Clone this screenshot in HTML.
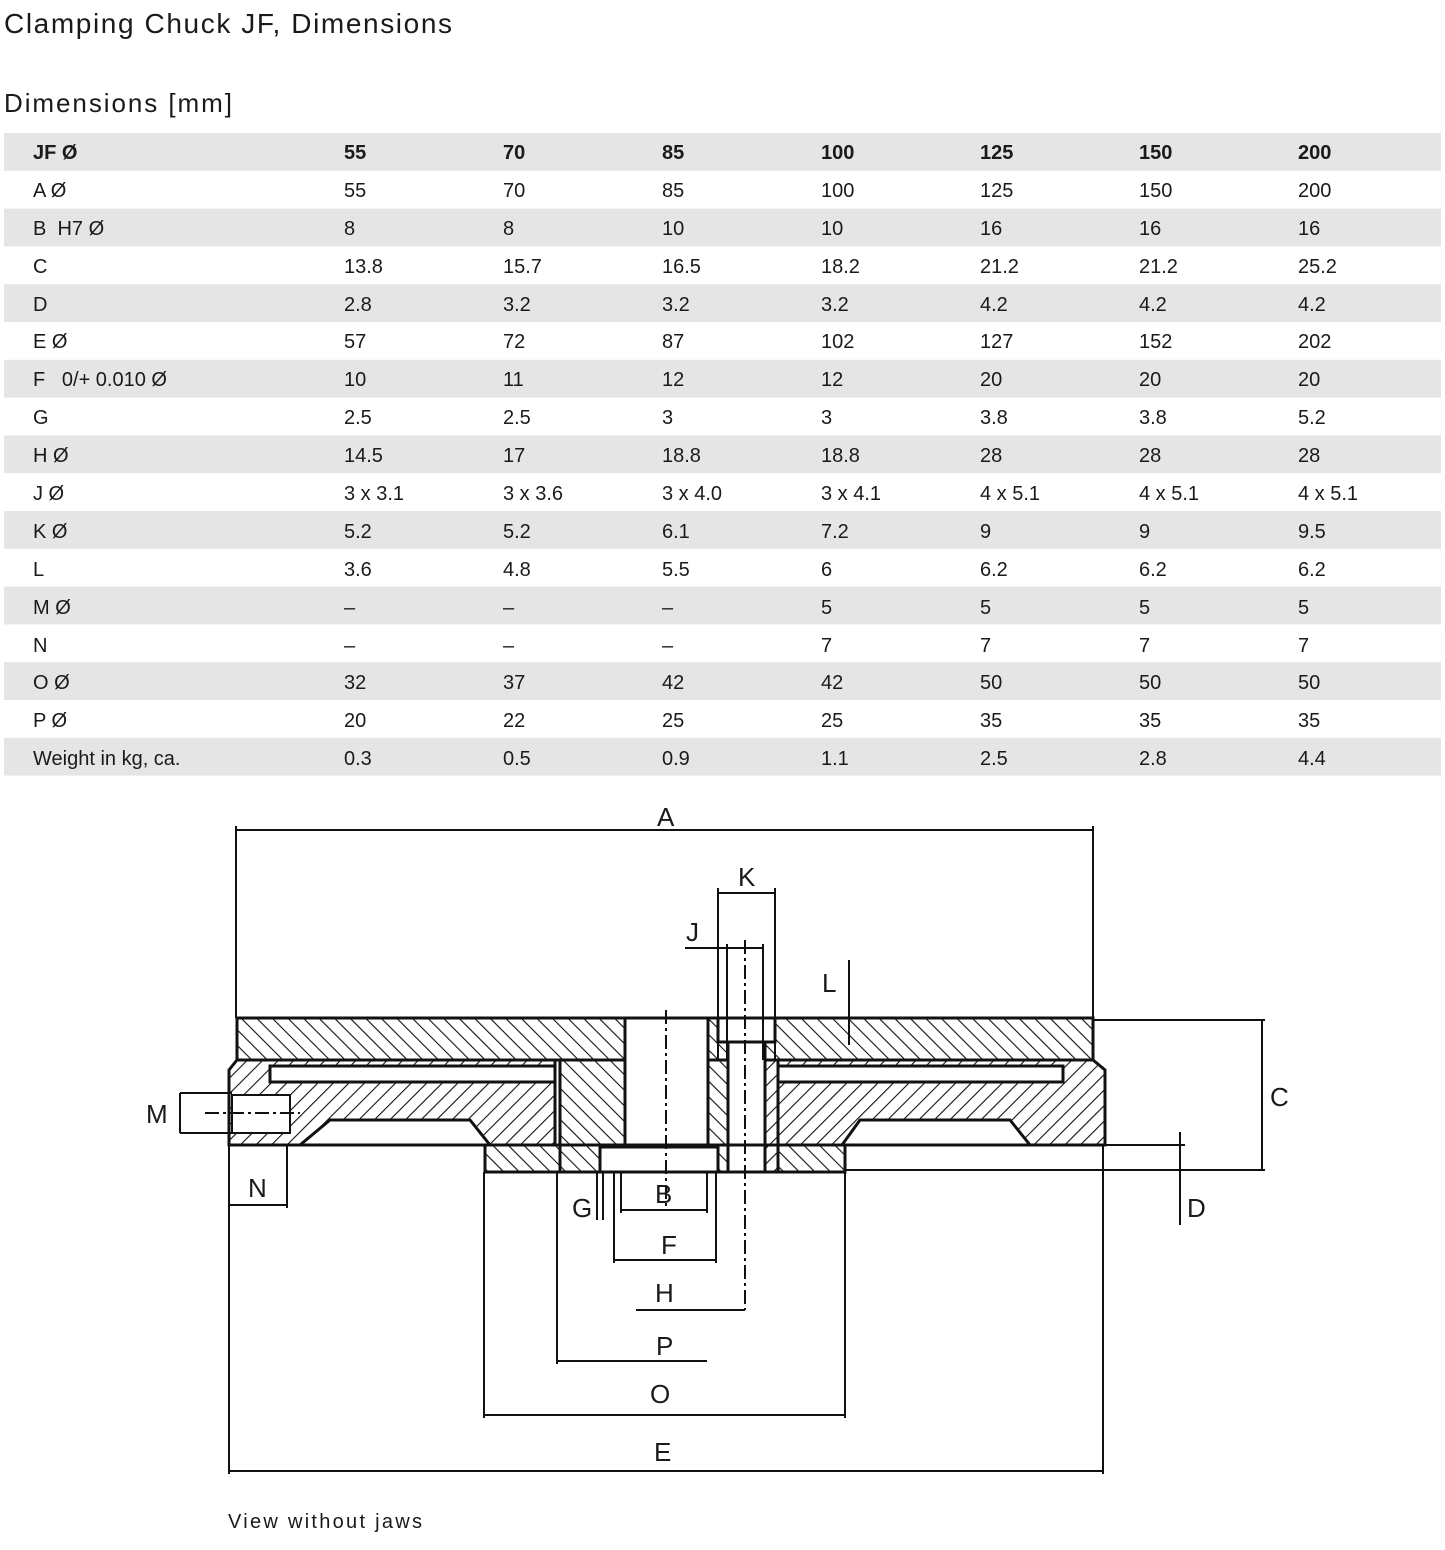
<!DOCTYPE html>
<html><head><meta charset="utf-8"><style>
html,body{margin:0;padding:0;background:#fff}
svg{display:block}
text{font-family:"Liberation Sans",sans-serif;fill:#1a1a1a}
</style></head><body>
<svg width="1445" height="1550" viewBox="0 0 1445 1550" xmlns="http://www.w3.org/2000/svg">
<defs>
<pattern id="h1" patternUnits="userSpaceOnUse" width="11" height="11" patternTransform="rotate(45)"><line x1="0" y1="0" x2="0" y2="11" stroke="#111" stroke-width="2.2"/></pattern>
<pattern id="h2" patternUnits="userSpaceOnUse" width="11" height="11" patternTransform="rotate(-45)"><line x1="0" y1="0" x2="0" y2="11" stroke="#111" stroke-width="2.2"/></pattern>
</defs>
<text x="4" y="33" font-size="28" textLength="448">Clamping Chuck JF, Dimensions</text>
<text x="4" y="112" font-size="26" textLength="228">Dimensions [mm]</text>
<g fill="#e5e5e5">
<rect x="4" y="133" width="1437" height="37.8"/>
<rect x="4" y="208.6" width="1437" height="37.8"/>
<rect x="4" y="284.2" width="1437" height="37.8"/>
<rect x="4" y="359.8" width="1437" height="37.8"/>
<rect x="4" y="435.4" width="1437" height="37.8"/>
<rect x="4" y="511" width="1437" height="37.8"/>
<rect x="4" y="586.6" width="1437" height="37.8"/>
<rect x="4" y="662.2" width="1437" height="37.8"/>
<rect x="4" y="737.8" width="1437" height="37.8"/>
</g>
<g font-size="20">
<g font-weight="bold"><text x="33" y="159">JF Ø</text><text x="344" y="159">55</text><text x="503" y="159">70</text><text x="662" y="159">85</text><text x="821" y="159">100</text><text x="980" y="159">125</text><text x="1139" y="159">150</text><text x="1298" y="159">200</text></g>
<text x="33" y="197">A Ø</text><text x="344" y="197">55</text><text x="503" y="197">70</text><text x="662" y="197">85</text><text x="821" y="197">100</text><text x="980" y="197">125</text><text x="1139" y="197">150</text><text x="1298" y="197">200</text>
<text x="33" y="235">B&#160;&#160;H7 Ø</text><text x="344" y="235">8</text><text x="503" y="235">8</text><text x="662" y="235">10</text><text x="821" y="235">10</text><text x="980" y="235">16</text><text x="1139" y="235">16</text><text x="1298" y="235">16</text>
<text x="33" y="273">C</text><text x="344" y="273">13.8</text><text x="503" y="273">15.7</text><text x="662" y="273">16.5</text><text x="821" y="273">18.2</text><text x="980" y="273">21.2</text><text x="1139" y="273">21.2</text><text x="1298" y="273">25.2</text>
<text x="33" y="311">D</text><text x="344" y="311">2.8</text><text x="503" y="311">3.2</text><text x="662" y="311">3.2</text><text x="821" y="311">3.2</text><text x="980" y="311">4.2</text><text x="1139" y="311">4.2</text><text x="1298" y="311">4.2</text>
<text x="33" y="348">E Ø</text><text x="344" y="348">57</text><text x="503" y="348">72</text><text x="662" y="348">87</text><text x="821" y="348">102</text><text x="980" y="348">127</text><text x="1139" y="348">152</text><text x="1298" y="348">202</text>
<text x="33" y="386">F&#160;&#160;&#160;0/+ 0.010 Ø</text><text x="344" y="386">10</text><text x="503" y="386">11</text><text x="662" y="386">12</text><text x="821" y="386">12</text><text x="980" y="386">20</text><text x="1139" y="386">20</text><text x="1298" y="386">20</text>
<text x="33" y="424">G</text><text x="344" y="424">2.5</text><text x="503" y="424">2.5</text><text x="662" y="424">3</text><text x="821" y="424">3</text><text x="980" y="424">3.8</text><text x="1139" y="424">3.8</text><text x="1298" y="424">5.2</text>
<text x="33" y="462">H Ø</text><text x="344" y="462">14.5</text><text x="503" y="462">17</text><text x="662" y="462">18.8</text><text x="821" y="462">18.8</text><text x="980" y="462">28</text><text x="1139" y="462">28</text><text x="1298" y="462">28</text>
<text x="33" y="500">J Ø</text><text x="344" y="500">3 x 3.1</text><text x="503" y="500">3 x 3.6</text><text x="662" y="500">3 x 4.0</text><text x="821" y="500">3 x 4.1</text><text x="980" y="500">4 x 5.1</text><text x="1139" y="500">4 x 5.1</text><text x="1298" y="500">4 x 5.1</text>
<text x="33" y="538">K Ø</text><text x="344" y="538">5.2</text><text x="503" y="538">5.2</text><text x="662" y="538">6.1</text><text x="821" y="538">7.2</text><text x="980" y="538">9</text><text x="1139" y="538">9</text><text x="1298" y="538">9.5</text>
<text x="33" y="576">L</text><text x="344" y="576">3.6</text><text x="503" y="576">4.8</text><text x="662" y="576">5.5</text><text x="821" y="576">6</text><text x="980" y="576">6.2</text><text x="1139" y="576">6.2</text><text x="1298" y="576">6.2</text>
<text x="33" y="614">M Ø</text><text x="344" y="614">–</text><text x="503" y="614">–</text><text x="662" y="614">–</text><text x="821" y="614">5</text><text x="980" y="614">5</text><text x="1139" y="614">5</text><text x="1298" y="614">5</text>
<text x="33" y="652">N</text><text x="344" y="652">–</text><text x="503" y="652">–</text><text x="662" y="652">–</text><text x="821" y="652">7</text><text x="980" y="652">7</text><text x="1139" y="652">7</text><text x="1298" y="652">7</text>
<text x="33" y="689">O Ø</text><text x="344" y="689">32</text><text x="503" y="689">37</text><text x="662" y="689">42</text><text x="821" y="689">42</text><text x="980" y="689">50</text><text x="1139" y="689">50</text><text x="1298" y="689">50</text>
<text x="33" y="727">P Ø</text><text x="344" y="727">20</text><text x="503" y="727">22</text><text x="662" y="727">25</text><text x="821" y="727">25</text><text x="980" y="727">35</text><text x="1139" y="727">35</text><text x="1298" y="727">35</text>
<text x="33" y="765">Weight in kg, ca.</text><text x="344" y="765">0.3</text><text x="503" y="765">0.5</text><text x="662" y="765">0.9</text><text x="821" y="765">1.1</text><text x="980" y="765">2.5</text><text x="1139" y="765">2.8</text><text x="1298" y="765">4.4</text>
</g>

<g stroke="#111" fill="none">
<g stroke-width="3">
<rect x="237" y="1018" width="388" height="42" fill="url(#h2)"/>
<rect x="560" y="1060" width="65" height="112" fill="url(#h2)"/>
<rect x="708" y="1018" width="385" height="42" fill="url(#h2)"/>
<path d="M237 1060 H555 V1145 H490 L470 1120 H330 L300 1145 H229 V1070 Z" fill="url(#h1)"/>
<rect x="270" y="1066" width="285" height="16" fill="#fff"/>
<rect x="232" y="1095" width="58" height="38" fill="#fff" stroke-width="2"/>
<path d="M778 1060 H1093 L1105 1070 V1145 H1030 L1010 1120 H860 L842 1145 H778 Z" fill="url(#h1)"/>
<rect x="778" y="1066" width="285" height="16" fill="#fff"/>
<rect x="485" y="1145" width="75" height="27" fill="url(#h2)"/>
<rect x="778" y="1145" width="67" height="27" fill="url(#h2)"/>
<rect x="708" y="1060" width="20" height="112" fill="url(#h2)"/>
<rect x="765" y="1060" width="13" height="112" fill="url(#h1)"/>
<rect x="728" y="1040" width="37" height="132" fill="#fff"/>
<rect x="718" y="1018" width="57" height="24" fill="#fff"/>
<rect x="625" y="1018" width="83" height="127" fill="#fff"/>
<rect x="600" y="1147" width="118" height="25" fill="#fff"/>
<line x1="237" y1="1018" x2="1093" y2="1018"/>
<line x1="237" y1="1060" x2="555" y2="1060"/>
<line x1="778" y1="1060" x2="1093" y2="1060"/>
<line x1="237" y1="1018" x2="237" y2="1060"/>
<line x1="1093" y1="1018" x2="1093" y2="1060"/>
<line x1="485" y1="1172" x2="845" y2="1172"/>
<line x1="229" y1="1145" x2="1105" y2="1145"/>
</g>
<g stroke-width="2">
<line x1="666" y1="1010" x2="666" y2="1210" stroke-dasharray="14 4 3 4"/>
<line x1="745" y1="940" x2="745" y2="1310" stroke-dasharray="14 4 3 4"/>
<line x1="205" y1="1113" x2="300" y2="1113" stroke-dasharray="14 4 3 4"/>
<line x1="236" y1="830" x2="1093" y2="830"/><line x1="236" y1="826" x2="236" y2="1018"/><line x1="1093" y1="826" x2="1093" y2="1018"/>
<line x1="718" y1="893" x2="775" y2="893"/><line x1="718" y1="888" x2="718" y2="1060"/><line x1="775" y1="888" x2="775" y2="1060"/>
<line x1="685" y1="948" x2="763" y2="948"/><line x1="727" y1="944" x2="727" y2="1060"/><line x1="763" y1="944" x2="763" y2="1060"/>
<line x1="849" y1="960" x2="849" y2="1045"/>
<line x1="1093" y1="1020" x2="1265" y2="1020"/><line x1="845" y1="1170" x2="1265" y2="1170"/><line x1="1262" y1="1020" x2="1262" y2="1170"/>
<line x1="1105" y1="1145" x2="1185" y2="1145"/><line x1="1180" y1="1132" x2="1180" y2="1225"/>
<line x1="180" y1="1093" x2="180" y2="1133"/><line x1="180" y1="1093" x2="232" y2="1093"/><line x1="180" y1="1133" x2="232" y2="1133"/>
<line x1="230" y1="1205" x2="287" y2="1205"/><line x1="287" y1="1145" x2="287" y2="1208"/>
<line x1="597" y1="1172" x2="597" y2="1220"/><line x1="603" y1="1172" x2="603" y2="1220"/>
<line x1="621" y1="1210" x2="707" y2="1210"/><line x1="621" y1="1172" x2="621" y2="1213"/><line x1="707" y1="1172" x2="707" y2="1213"/>
<line x1="614" y1="1260" x2="716" y2="1260"/><line x1="614" y1="1172" x2="614" y2="1263"/><line x1="716" y1="1172" x2="716" y2="1263"/>
<line x1="636" y1="1310" x2="745" y2="1310"/>
<line x1="557" y1="1361" x2="707" y2="1361"/><line x1="557" y1="1172" x2="557" y2="1364"/>
<line x1="484" y1="1415" x2="845" y2="1415"/><line x1="484" y1="1172" x2="484" y2="1418"/><line x1="845" y1="1172" x2="845" y2="1418"/>
<line x1="229" y1="1471" x2="1103" y2="1471"/><line x1="229" y1="1145" x2="229" y2="1474"/><line x1="1103" y1="1145" x2="1103" y2="1474"/>
</g>
</g>
<g font-size="26">
<text x="657" y="826">A</text><text x="738" y="886">K</text><text x="686" y="941">J</text><text x="822" y="992">L</text>
<text x="1270" y="1106">C</text><text x="1187" y="1217">D</text><text x="146" y="1123">M</text><text x="248" y="1197">N</text>
<text x="572" y="1217">G</text><text x="655" y="1203">B</text><text x="661" y="1254">F</text><text x="655" y="1302">H</text>
<text x="656" y="1355">P</text><text x="650" y="1403">O</text><text x="654" y="1461">E</text>
</g>
<text x="228" y="1528" font-size="20" textLength="194">View without jaws</text>
</svg>
</body></html>
